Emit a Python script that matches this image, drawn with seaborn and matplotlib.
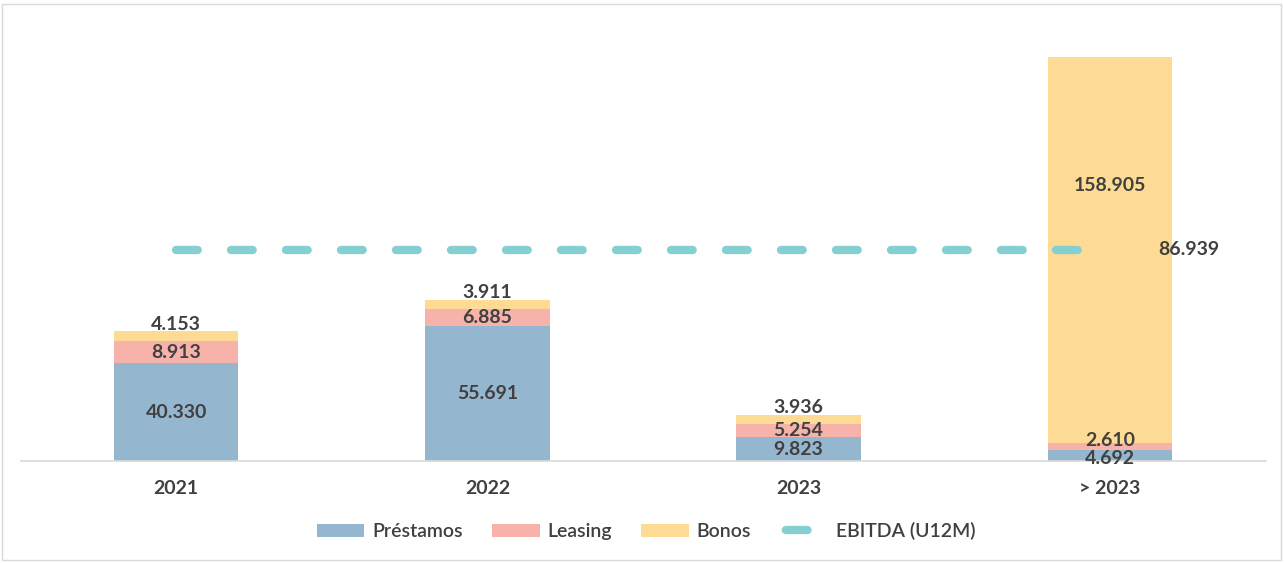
import numpy as np
import pandas as pd
import matplotlib
matplotlib.use("Agg")
import matplotlib.pyplot as plt
from matplotlib.lines import Line2D
from matplotlib.patches import Rectangle, Patch
import seaborn as sns

# Debt maturity profile (millions) by year
categories = ["2021", "2022", "2023", "> 2023"]
prestamos = [40.330, 55.691, 9.823, 4.692]
leasing = [8.913, 6.885, 5.254, 2.610]
bonos = [4.153, 3.911, 3.936, 158.905]
ebitda_u12m = 86.939

series_names = ["Préstamos", "Leasing", "Bonos"]
series_colors = ["#95B6CF", "#F7B3A9", "#FDDB94"]
line_color = "#86CFD1"
label_color = "#404040"

# vertical nudges (pixels) applied to each value label
label_nudges = [[0, 0, 0, -3], [0, 0, 0, 6], [12, 12, 12, 65]]

sns.set_theme(style="white")
plt.rcParams["font.family"] = ["Lato", "DejaVu Sans"]

fig = plt.figure(figsize=(12.84, 5.63), dpi=100)
ax = fig.add_axes([20.5 / 1284, 1 - 461 / 563, 1245 / 1284, 437 / 563])

df = pd.DataFrame({"cat": categories, "Préstamos": prestamos,
                   "Leasing": leasing, "Bonos": bonos})

bottom = np.zeros(len(categories))
for name, color, nudges in zip(series_names, series_colors, label_nudges):
    vals = df[name].to_numpy()
    sns.barplot(data=df, x="cat", y=name, bottom=bottom, color=color,
                saturation=1, width=0.4, errorbar=None, linewidth=0, ax=ax)
    for i, v in enumerate(vals):
        ax.annotate(f"{v:.3f}", xy=(i, bottom[i] + v / 2), xytext=(0, nudges[i]),
                    textcoords="offset pixels", ha="center", va="center",
                    fontsize=14, fontweight="bold", color=label_color)
    bottom = bottom + vals

# EBITDA reference line across the categories
xpos = np.arange(len(categories))
sns.lineplot(x=xpos, y=np.full(len(categories), ebitda_u12m), ax=ax,
             color=line_color, linewidth=6, dashes=False,
             solid_capstyle="round")
ax.lines[-1].set_linestyle((0, (2.6, 4.0)))
ax.lines[-1].set_dash_capstyle("round")
ax.annotate(f"{ebitda_u12m:.3f}", xy=(xpos[-1], ebitda_u12m), xytext=(48, 0),
            textcoords="offset pixels", ha="left", va="center",
            fontsize=14, fontweight="bold", color=label_color)

ax.set_xlim(-0.5, 3.5)
ax.set_ylim(0, 180)
ax.set_xlabel("")
ax.set_ylabel("")
ax.set_yticks([])
ax.tick_params(axis="x", length=0, pad=14, labelsize=14, labelcolor=label_color)
for lbl in ax.get_xticklabels():
    lbl.set_fontweight("bold")
for side in ["left", "right", "top"]:
    ax.spines[side].set_visible(False)
ax.spines["bottom"].set_color("#D9D9D9")
ax.spines["bottom"].set_linewidth(1.2)
ax.patch.set_alpha(0)

# legend
handles = [Patch(facecolor=c, edgecolor="none", label=n)
           for n, c in zip(series_names, series_colors)]
handles.append(Line2D([0], [0], color=line_color, linewidth=6,
                      linestyle=(5.9, (2.6, 4.0)), dash_capstyle="round",
                      label="EBITDA (U12M)"))
leg = fig.legend(handles=handles, loc="center",
                 bbox_to_anchor=(646 / 1284, 1 - 531 / 563), ncol=4,
                 frameon=False, prop={"size": 14, "weight": "semibold"},
                 handlelength=2.45, handleheight=0.65, handletextpad=0.4,
                 columnspacing=1.5)
for t in leg.get_texts():
    t.set_color(label_color)

# chart frame
fig.patches.append(Rectangle((2 / 1284, 3 / 563), 1279 / 1284, 556 / 563,
                             transform=fig.transFigure, fill=False,
                             edgecolor="#D9D9D9", linewidth=1))

fig.savefig("out.png", dpi=100)
